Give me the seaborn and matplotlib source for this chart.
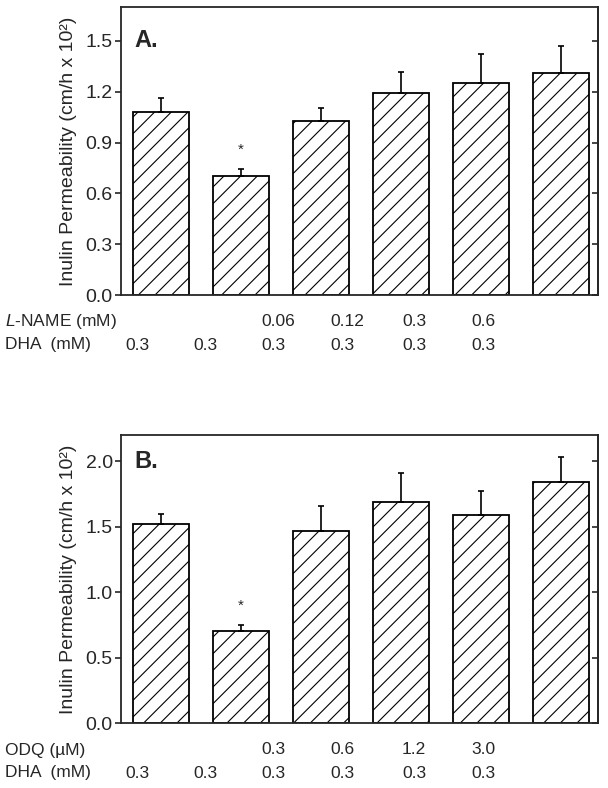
import numpy as np
import pandas as pd
import matplotlib.pyplot as plt
import seaborn as sns

# Data (means and upper SEM)
groups = ["g1", "g2", "g3", "g4", "g5", "g6"]
perm_a = [1.08, 0.70, 1.03, 1.19, 1.25, 1.31]
err_a = [0.08, 0.045, 0.075, 0.125, 0.175, 0.16]
perm_b = [1.52, 0.70, 1.47, 1.69, 1.59, 1.84]
err_b = [0.075, 0.045, 0.185, 0.22, 0.18, 0.19]
signif = [False, True, False, False, False, False]

lname_mm = ["", "", "0.06", "0.12", "0.3", "0.6"]
odq_um = ["", "", "0.3", "0.6", "1.2", "3.0"]
dha_mm = ["0.3", "0.3", "0.3", "0.3", "0.3", "0.3"]

ticks_a = [0.0, 0.3, 0.6, 0.9, 1.2, 1.5]
ticks_b = [0.0, 0.5, 1.0, 1.5, 2.0]

sns.set_style("ticks")
plt.rcParams['font.family'] = ['Liberation Sans', 'DejaVu Sans']
plt.rcParams['mathtext.fontset'] = 'custom'
plt.rcParams['mathtext.rm'] = 'Liberation Sans'
plt.rcParams['mathtext.it'] = 'Liberation Sans:italic'
plt.rcParams['hatch.linewidth'] = 0.8
plt.rcParams['hatch.color'] = 'black'

W, H = 608, 788
fig = plt.figure(figsize=(W / 100, H / 100), dpi=100)


def px(x, y):
    return x / W, 1 - y / H


def panel(top_px, vals, errs, ymax, ticks, fmt, letter, row1_name, row1_vals):
    left, right, bottom = 121, 598, top_px + 288
    ax = fig.add_axes([left / W, 1 - bottom / H, (right - left) / W, 288 / H])
    df = pd.DataFrame({"group": groups, "perm": vals})
    sns.barplot(data=df, x="group", y="perm", color="white", saturation=1,
                edgecolor="black", linewidth=1.3, width=0.7, ax=ax, errorbar=None)
    for p in ax.patches:
        p.set_hatch("//")
    pos = np.arange(len(groups))
    ax.errorbar(pos, vals, yerr=[np.zeros(len(errs)), errs], fmt="none",
                ecolor="black", elinewidth=1.2, capsize=2.2, capthick=1.2)
    for i, s in enumerate(signif):
        if s:
            ax.annotate("*", xy=(pos[i], vals[i] + errs[i]), xytext=(0, 9),
                        textcoords="offset points", ha="center", va="bottom",
                        fontsize=11)

    ax.set_xlim(-0.5, 5.46)
    ax.set_ylim(0, ymax)
    ax.set_yticks(ticks)
    ax.set_yticklabels([fmt.format(t) for t in ticks], fontsize=14)
    ax.set_xticks([])
    ax.set_xlabel("")
    ax.set_ylabel("Inulin Permeability (cm/h x 10²)", fontsize=14, labelpad=6)
    ax.tick_params(axis="y", direction="out", length=4, width=1.2, pad=2,
                   right=False)
    for sp in ax.spines.values():
        sp.set_visible(True)
        sp.set_linewidth(1.3)
    sec = ax.secondary_yaxis("right")
    sec.set_yticks(ticks)
    sec.tick_params(direction="in", length=4, width=1.2, labelright=False)
    sec.spines["right"].set_linewidth(1.3)

    ax.text(-0.33, ticks[-1], letter, fontsize=17, fontweight="bold",
            ha="left", va="center")

    # condition table under the bars
    cols = [125, 193, 261, 330, 402, 471]
    r1, r2 = bottom + 27, bottom + 50
    fig.text(*px(5, r1), row1_name, fontsize=12.5, ha="left", va="center")
    fig.text(*px(5, r2), "DHA  (mM)", fontsize=12.5, ha="left", va="center")
    for c, v1, v2 in zip(cols, row1_vals, dha_mm):
        fig.text(*px(c, r1), v1, fontsize=12.5, ha="left", va="center")
        fig.text(*px(c, r2), v2, fontsize=12.5, ha="left", va="center")
    return ax


panel(7, perm_a, err_a, 1.7, ticks_a, "{:.1f}", "A.",
      r"$\it{L}$-NAME (mM)", lname_mm)
panel(435, perm_b, err_b, 2.2, ticks_b, "{:.1f}", "B.",
      "ODQ (µM)", odq_um)

fig.savefig("out.png", dpi=100)
